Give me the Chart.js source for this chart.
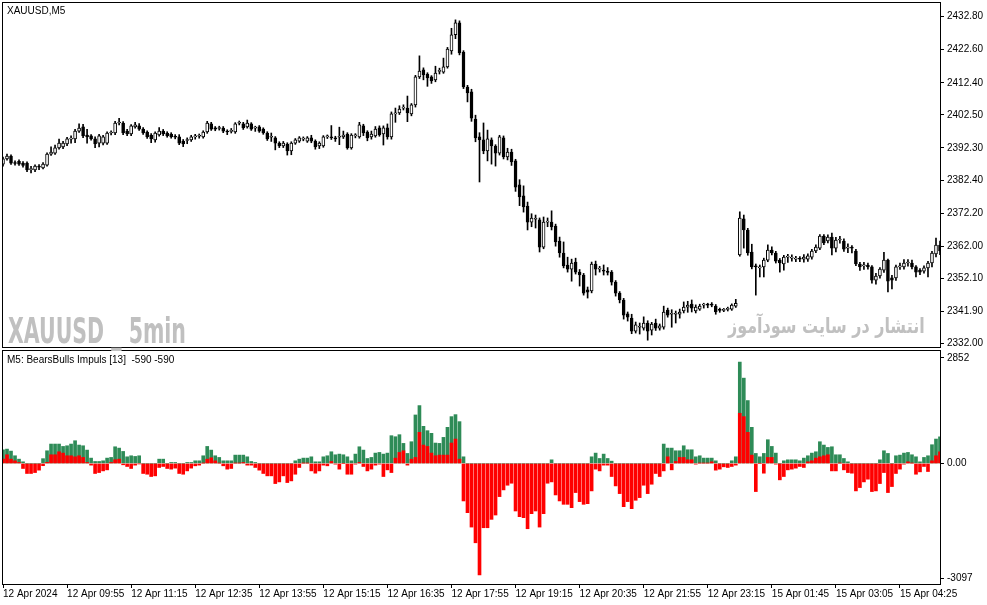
<!DOCTYPE html>
<html>
<head>
<meta charset="utf-8">
<title>XAUUSD,M5</title>
<script src="https://cdn.jsdelivr.net/npm/chart.js@4.4.1/dist/chart.umd.min.js"></script>
<style>
  html, body { margin: 0; padding: 0; background: #fff; }
  #wrap { position: relative; width: 987px; height: 605px; overflow: hidden; font-family: 'Liberation Sans', Arial, sans-serif; }
  canvas { position: absolute; left: 0; }
  #price { top: 0; }
  #impulse { top: 348px; }
  .lbl { position: absolute; font-size: 10px; color: #000; white-space: nowrap; }
  .wm { position: absolute; color: #c0c0c0; white-space: nowrap; transform-origin: 0 0; }
</style>
</head>
<body>
<div id="wrap">
  <canvas id="price" width="987" height="350"></canvas>
  <canvas id="impulse" width="987" height="257"></canvas>
  <div class="lbl" style="left:7px;top:5px">XAUUSD,M5</div>
  <div class="lbl" style="left:7px;top:354px">M5: BearsBulls Impuls [13]&nbsp; -590 -590</div>
  <div class="wm" id="wm1" style="left:8px;top:310px;font:bold 36px 'Liberation Sans Narrow','DejaVu Sans Condensed',sans-serif">XAUUSD _ 5min</div>
  <div class="wm" id="wm2" dir="rtl" style="left:728px;top:314px;font:bold 21px 'DejaVu Sans',sans-serif">انتشار در سایت سودآموز</div>
</div>
<script>
// 5 minute candles, 12 Apr 2024 08:35 .. 15 Apr 2024
var open = [
  2387.3, 2388.9, 2389.8, 2387.6, 2388.2, 2387.6, 2387.6, 2385.6, 2385.5, 2386.5,
  2386.1, 2387.0, 2390.4, 2390.7, 2392.3, 2392.6, 2393.5, 2395.0, 2395.1, 2397.5,
  2398.8, 2396.3, 2396.0, 2395.1, 2393.8, 2393.8, 2393.8, 2396.9, 2396.9, 2400.0,
  2400.0, 2397.5, 2396.6, 2398.8, 2399.1, 2398.1, 2397.2, 2396.3, 2394.8, 2396.3,
  2397.5, 2396.9, 2396.6, 2395.7, 2395.7, 2394.4, 2394.6, 2394.8, 2395.7, 2395.9,
  2395.7, 2397.2, 2399.7, 2398.5, 2398.3, 2398.4, 2397.3, 2397.4, 2397.2, 2399.9,
  2399.7, 2398.8, 2399.7, 2398.4, 2398.8, 2398.1, 2396.9, 2395.6, 2395.4, 2393.8,
  2392.9, 2393.5, 2391.4, 2393.8, 2394.4, 2395.0, 2394.4, 2395.4, 2394.4, 2392.9,
  2392.9, 2395.7, 2395.5, 2395.2, 2395.6, 2395.7, 2396.6, 2392.3, 2396.0, 2395.7,
  2399.1, 2397.2, 2395.7, 2396.0, 2398.5, 2396.6, 2398.5, 2395.7, 2402.8, 2403.1,
  2404.6, 2404.6, 2402.8, 2405.6, 2414.2, 2416.4, 2415.1, 2414.2, 2413.3, 2415.9,
  2415.7, 2417.3, 2422.2, 2427.2, 2430.9, 2421.9, 2411.1, 2409.6, 2401.2, 2395.7,
  2394.8, 2391.4, 2394.8, 2392.9, 2390.7, 2395.4, 2389.5, 2391.0, 2388.3, 2380.9,
  2377.5, 2374.4, 2369.4, 2370.3, 2370.1, 2361.7, 2369.4, 2369.4, 2368.2, 2363.6,
  2359.9, 2356.2, 2354.9, 2357.1, 2354.0, 2353.1, 2348.5, 2348.2, 2356.5, 2354.9,
  2354.4, 2354.0, 2354.0, 2350.9, 2347.5, 2345.4, 2341.1, 2339.8, 2335.8, 2337.0,
  2336.7, 2338.3, 2336.1, 2338.3, 2336.7, 2337.0, 2342.3, 2341.0, 2341.0, 2341.0,
  2342.0, 2343.2, 2344.1, 2342.0, 2342.6, 2343.8, 2343.9, 2344.1, 2343.5, 2342.3,
  2342.2, 2342.5, 2342.6, 2343.5, 2359.3, 2370.4, 2367.0, 2360.2, 2355.9, 2355.3,
  2355.6, 2357.7, 2360.8, 2359.9, 2357.7, 2356.5, 2358.6, 2358.3, 2358.0, 2358.1,
  2358.0, 2358.0, 2358.6, 2360.5, 2361.4, 2365.1, 2363.6, 2364.8, 2361.4, 2363.9,
  2363.6, 2361.4, 2361.5, 2360.5, 2356.5, 2355.9, 2356.2, 2355.6, 2351.5, 2352.8,
  2354.6, 2357.7, 2352.2, 2352.2, 2355.6, 2355.6, 2356.8, 2356.8, 2355.6, 2354.6,
  2354.3, 2355.3, 2356.8, 2359.6, 2362.3
];
var high = [
  2389.5, 2390.4, 2390.2, 2388.3, 2388.6, 2388.1, 2388.0, 2386.6, 2387.1, 2387.2,
  2387.8, 2390.8, 2392.6, 2393.2, 2395.0, 2394.3, 2395.6, 2396.0, 2398.0, 2399.7,
  2399.6, 2398.0, 2396.4, 2395.7, 2396.5, 2396.2, 2397.3, 2397.6, 2400.5, 2401.4,
  2400.4, 2398.0, 2399.5, 2400.2, 2399.8, 2398.6, 2397.6, 2396.7, 2397.3, 2398.6,
  2398.0, 2397.3, 2397.0, 2396.4, 2396.4, 2394.9, 2395.4, 2396.2, 2396.5, 2396.6,
  2397.6, 2400.5, 2400.2, 2398.9, 2399.0, 2398.9, 2397.9, 2398.3, 2400.1, 2400.6,
  2400.2, 2400.9, 2400.1, 2399.0, 2399.2, 2398.5, 2397.3, 2396.9, 2395.8, 2394.2,
  2394.3, 2393.9, 2394.2, 2395.2, 2395.8, 2395.7, 2395.8, 2396.2, 2394.8, 2394.2,
  2396.1, 2396.3, 2399.2, 2395.9, 2398.7, 2397.5, 2397.0, 2396.7, 2396.7, 2400.2,
  2399.6, 2397.6, 2397.5, 2398.9, 2399.1, 2399.1, 2399.7, 2403.4, 2404.6, 2405.3,
  2405.6, 2408.3, 2406.0, 2414.7, 2420.7, 2417.0, 2415.5, 2414.6, 2417.5, 2416.9,
  2420.0, 2423.3, 2429.2, 2431.8, 2431.5, 2422.3, 2411.6, 2410.4, 2402.4, 2397.0,
  2400.0, 2397.8, 2395.4, 2393.3, 2396.2, 2396.0, 2392.2, 2391.9, 2388.8, 2382.5,
  2380.6, 2375.6, 2372.0, 2371.6, 2370.7, 2371.0, 2370.7, 2372.9, 2368.8, 2364.8,
  2363.3, 2358.6, 2358.0, 2358.3, 2354.8, 2353.6, 2349.4, 2357.1, 2357.4, 2355.8,
  2356.2, 2355.4, 2354.5, 2351.4, 2348.0, 2345.9, 2341.7, 2341.0, 2338.6, 2338.3,
  2340.2, 2339.0, 2338.5, 2339.5, 2338.0, 2343.5, 2342.9, 2342.4, 2342.0, 2342.6,
  2344.8, 2345.0, 2345.4, 2343.9, 2344.1, 2344.4, 2344.4, 2344.6, 2344.0, 2342.9,
  2342.8, 2343.2, 2344.2, 2345.6, 2372.6, 2371.6, 2367.5, 2362.6, 2356.5, 2356.2,
  2358.3, 2362.4, 2361.8, 2360.4, 2358.2, 2359.2, 2359.5, 2359.3, 2358.9, 2358.8,
  2359.4, 2359.6, 2361.0, 2362.4, 2365.6, 2365.6, 2365.5, 2366.0, 2364.7, 2365.0,
  2364.3, 2362.7, 2362.2, 2361.0, 2357.0, 2357.0, 2356.8, 2356.0, 2353.6, 2355.4,
  2360.1, 2358.0, 2353.0, 2356.2, 2356.8, 2357.9, 2357.9, 2357.7, 2356.0, 2355.1,
  2355.9, 2357.3, 2360.4, 2364.5, 2363.6
];
var low = [
  2386.7, 2388.5, 2387.2, 2387.0, 2386.9, 2386.4, 2385.0, 2384.6, 2385.0, 2385.6,
  2385.8, 2386.7, 2390.0, 2390.3, 2391.9, 2392.1, 2393.0, 2393.8, 2393.9, 2397.1,
  2395.5, 2393.8, 2394.7, 2392.4, 2392.6, 2393.2, 2393.4, 2396.3, 2396.4, 2399.4,
  2396.4, 2396.1, 2396.1, 2398.4, 2397.7, 2396.5, 2395.2, 2393.9, 2394.1, 2395.9,
  2396.1, 2395.6, 2395.3, 2395.1, 2393.3, 2392.7, 2393.6, 2394.3, 2395.0, 2395.3,
  2395.3, 2396.8, 2397.7, 2397.6, 2397.8, 2397.0, 2396.4, 2396.9, 2396.8, 2399.4,
  2398.0, 2398.4, 2397.7, 2397.4, 2397.1, 2396.5, 2394.6, 2394.3, 2391.7, 2392.4,
  2392.4, 2390.1, 2390.2, 2393.4, 2394.0, 2394.5, 2394.0, 2393.9, 2391.9, 2392.1,
  2392.5, 2395.2, 2394.9, 2394.3, 2393.3, 2395.2, 2391.9, 2391.9, 2395.4, 2395.3,
  2396.1, 2394.5, 2395.0, 2395.6, 2395.9, 2393.2, 2395.0, 2395.0, 2400.2, 2402.6,
  2404.0, 2400.4, 2402.2, 2404.9, 2413.7, 2413.3, 2411.3, 2412.2, 2412.7, 2415.1,
  2415.3, 2416.9, 2421.2, 2426.0, 2421.0, 2410.6, 2406.5, 2400.5, 2394.2, 2381.8,
  2390.5, 2388.3, 2387.3, 2386.7, 2390.1, 2388.9, 2388.6, 2386.9, 2378.9, 2374.5,
  2372.5, 2367.0, 2368.0, 2367.6, 2360.2, 2361.2, 2368.0, 2367.0, 2362.0, 2358.6,
  2355.3, 2354.0, 2351.2, 2353.4, 2349.7, 2346.9, 2346.0, 2347.6, 2353.1, 2354.0,
  2353.1, 2353.1, 2350.0, 2346.6, 2344.5, 2339.5, 2338.9, 2335.0, 2335.2, 2334.9,
  2336.1, 2333.0, 2334.6, 2336.0, 2336.1, 2336.4, 2340.1, 2337.0, 2338.3, 2339.8,
  2341.4, 2341.6, 2341.7, 2341.4, 2342.2, 2342.9, 2343.0, 2343.3, 2341.0, 2341.6,
  2341.8, 2342.0, 2342.2, 2343.1, 2358.9, 2361.4, 2359.2, 2355.0, 2346.9, 2352.5,
  2352.5, 2357.2, 2359.3, 2356.8, 2354.0, 2354.6, 2357.0, 2357.4, 2357.2, 2357.2,
  2357.1, 2357.3, 2358.0, 2360.0, 2360.9, 2362.5, 2363.0, 2359.3, 2360.2, 2362.9,
  2360.4, 2360.0, 2359.9, 2356.0, 2354.5, 2354.8, 2354.9, 2350.6, 2350.3, 2352.1,
  2353.9, 2347.9, 2348.8, 2351.4, 2354.8, 2354.9, 2355.8, 2355.0, 2352.5, 2353.2,
  2353.7, 2352.5, 2355.6, 2358.7, 2359.4
];
var close = [
  2388.9, 2389.8, 2387.6, 2387.5, 2387.3, 2386.9, 2385.5, 2385.8, 2386.7, 2386.4,
  2387.3, 2390.4, 2391.0, 2392.3, 2393.8, 2393.8, 2395.1, 2395.1, 2397.5, 2398.4,
  2396.0, 2395.7, 2395.1, 2393.5, 2396.0, 2395.7, 2396.9, 2397.0, 2400.0, 2400.2,
  2396.9, 2396.6, 2399.1, 2399.4, 2398.1, 2396.9, 2395.7, 2395.1, 2396.9, 2397.5,
  2396.6, 2396.0, 2395.7, 2395.6, 2393.8, 2393.5, 2394.8, 2395.7, 2395.8, 2396.0,
  2397.2, 2400.0, 2398.1, 2398.1, 2398.4, 2397.5, 2397.2, 2397.6, 2399.7, 2400.0,
  2398.5, 2400.0, 2398.1, 2398.5, 2397.5, 2396.9, 2395.1, 2395.7, 2393.8, 2392.9,
  2393.8, 2391.4, 2393.8, 2394.8, 2395.4, 2395.1, 2395.4, 2394.4, 2392.6, 2393.8,
  2395.7, 2395.8, 2395.4, 2395.1, 2395.7, 2396.3, 2392.3, 2396.3, 2396.1, 2399.4,
  2396.9, 2395.4, 2396.6, 2398.1, 2396.3, 2398.5, 2395.7, 2402.8, 2402.9, 2404.3,
  2404.7, 2403.1, 2405.6, 2414.2, 2416.0, 2414.8, 2413.9, 2413.0, 2415.4, 2416.0,
  2417.3, 2422.8, 2427.2, 2430.9, 2421.6, 2411.1, 2409.3, 2401.5, 2395.4, 2394.8,
  2391.4, 2395.1, 2392.9, 2390.7, 2395.7, 2389.5, 2391.0, 2388.0, 2380.2, 2377.2,
  2374.1, 2369.4, 2370.7, 2370.4, 2361.7, 2369.4, 2369.5, 2367.9, 2363.3, 2359.9,
  2355.9, 2354.9, 2356.8, 2354.0, 2353.1, 2347.5, 2347.8, 2356.5, 2354.9, 2355.0,
  2354.3, 2353.9, 2350.9, 2347.5, 2345.4, 2340.7, 2340.1, 2335.8, 2337.7, 2337.1,
  2338.3, 2335.8, 2338.0, 2336.7, 2337.4, 2341.7, 2340.7, 2341.1, 2341.1, 2341.7,
  2343.2, 2343.8, 2342.9, 2343.2, 2343.5, 2343.9, 2343.8, 2343.8, 2341.7, 2342.2,
  2342.3, 2342.6, 2343.8, 2344.4, 2370.7, 2367.0, 2359.9, 2355.6, 2355.6, 2355.6,
  2357.7, 2360.8, 2359.9, 2357.4, 2356.8, 2358.6, 2358.7, 2358.4, 2358.1, 2358.0,
  2358.6, 2359.0, 2360.5, 2361.7, 2365.1, 2363.0, 2364.8, 2361.4, 2363.9, 2364.0,
  2361.1, 2361.5, 2361.4, 2356.5, 2355.6, 2356.0, 2355.6, 2351.5, 2352.8, 2354.9,
  2357.7, 2351.2, 2351.5, 2355.6, 2355.9, 2356.8, 2356.9, 2355.6, 2354.0, 2354.0,
  2355.3, 2356.8, 2359.9, 2362.3, 2360.5
];

// BearsBulls Impuls [13] buffers
var bulls = [
  370, 388, 334, 208, 117, 45, 0, 0, 0, 0,
  130, 343, 524, 524, 524, 460, 478, 524, 614, 497,
  478, 361, 145, 54, 54, 72, 145, 163, 451, 415,
  325, 180, 208, 190, 208, 0, 0, 0, 0, 117,
  117, 0, 27, 27, 0, 0, 27, 27, 72, 72,
  208, 460, 361, 208, 163, 72, 72, 72, 226, 226,
  226, 180, 54, 27, 0, 0, 0, 0, 0, 0,
  0, 0, 0, 72, 117, 145, 145, 180, 45, 45,
  180, 208, 316, 235, 253, 235, 180, 72, 253, 451,
  361, 135, 163, 280, 298, 253, 280, 750, 722, 777,
  542, 271, 587, 1309, 1562, 1002, 885, 813, 551, 542,
  704, 975, 1264, 1318, 1129, 180, 0, 0, 0, 0,
  0, 0, 0, 0, 0, 0, 0, 0, 0, 0,
  0, 0, 0, 0, 0, 0, 0, 99, 0, 0,
  0, 0, 0, 0, 0, 0, 0, 180, 280, 135,
  253, 135, 63, 0, 0, 0, 0, 0, 0, 0,
  0, 0, 0, 0, 0, 524, 415, 415, 343, 343,
  478, 370, 370, 180, 208, 145, 145, 145, 72, 0,
  0, 0, 72, 180, 2736, 2303, 1698, 975, 271, 180,
  271, 641, 460, 280, 0, 72, 99, 99, 99, 72,
  145, 208, 280, 316, 587, 497, 433, 451, 235, 235,
  135, 45, 0, 0, 0, 0, 0, 0, 0, 99,
  343, 271, 0, 208, 226, 280, 298, 235, 180, 45,
  163, 208, 506, 659, 722
];
var bears = [
  117, 235, 117, 72, 27, -135, -270, -270, -245, -180,
  -60, 30, 235, 235, 316, 280, 208, 208, 180, 208,
  163, 27, -45, -270, -245, -200, -172, 27, 100, 117,
  -36, -81, -135, -45, -10, -270, -290, -352, -334, -108,
  -81, -135, -153, -126, -270, -290, -200, -126, -63, -45,
  9, 117, 153, 72, 9, -63, -153, -135, 9, 9,
  27, -45, -45, -108, -180, -270, -334, -334, -542, -497,
  -334, -515, -470, -290, -108, 9, 9, -200, -262, -200,
  -45, -63, 54, -18, -153, 0, -290, -290, -18, 27,
  -81, -200, -153, -45, -18, -352, -172, -245, 145, 298,
  343, -45, 117, 163, 840, 497, 460, 280, 208, 226,
  226, 226, 551, 659, 117, -1011, -1327, -1716, -2140, -3007,
  -1734, -1734, -1508, -1391, -894, -713, -587, -533, -1282, -1436,
  -1463, -1761, -1355, -1282, -1716, -1355, -533, -497, -849, -1011,
  -1102, -1102, -1192, -785, -1029, -1102, -1084, -740, -153, -200,
  -45, -45, -352, -605, -813, -1165, -1029, -1219, -993, -921,
  -587, -813, -560, -270, -352, -200, 180, -172, 54, 163,
  163, 100, 100, -18, 9, 9, 9, 45, -180, -153,
  -90, -108, -81, -45, 1355, 1264, 840, 226, -758, 0,
  -262, 163, 163, -18, -442, -352, -172, -153, -126, -81,
  -108, 45, 72, 145, 180, 208, 235, -200, -200, 9,
  -172, -245, -262, -740, -650, -497, -424, -758, -740, -542,
  -245, -785, -623, -270, -153, -18, 45, 9, -290, -226,
  -81, -217, 72, 208, 316
];

// axis labels, one time label every 16 bars
var timeLabels = ['12 Apr 2024', '12 Apr 09:55', '12 Apr 11:15', '12 Apr 12:35', '12 Apr 13:55',
  '12 Apr 15:15', '12 Apr 16:35', '12 Apr 17:55', '12 Apr 19:15', '12 Apr 20:35',
  '12 Apr 21:55', '12 Apr 23:15', '15 Apr 01:45', '15 Apr 03:05', '15 Apr 04:25'];
var priceTicks = [2432.80, 2422.60, 2412.40, 2402.50, 2392.30, 2382.40, 2372.20, 2362.00, 2352.10, 2341.90, 2332.00];
var impulseTicks = [2852, 0, -3097];

var bars = open.map(function (v, i) { return i; });

Chart.defaults.font.family = "'Liberation Sans', Arial, sans-serif";
Chart.defaults.font.size = 10;
Chart.defaults.color = '#000';
Chart.defaults.animation = false;

// black frame round each window, like the terminal draws it
var frame = {
  id: 'frame',
  afterDraw: function (chart) {
    var a = chart.chartArea;
    var ctx = chart.ctx;
    ctx.save();
    ctx.strokeStyle = '#000';
    ctx.lineWidth = 1;
    ctx.strokeRect(a.left - 0.5, a.top - 0.5, a.right - a.left + 1, a.bottom - a.top + 1);
    ctx.restore();
  }
};

// the axes must not push the plot inwards to make room for end labels
function noPadding(s) {
  s.paddingTop = 0;
  s.paddingBottom = 0;
  s.paddingLeft = 0;
  s.paddingRight = 0;
}

function xAxis(show) {
  return {
    type: 'category',
    offset: false,
    display: show,
    grid: { offset: false, drawOnChartArea: false, tickLength: 4, color: '#000' },
    border: { display: false },
    ticks: {
      autoSkip: false,
      maxRotation: 0,
      minRotation: 0,
      align: 'start',
      padding: 0,
      callback: function (v, i) { return i % 16 === 0 ? timeLabels[i / 16] : null; }
    },
    afterFit: function (s) {
      noPadding(s);
      if (show) {
        s.height = 21;
      }
    }
  };
}

function yAxis(min, max, ticks, fmt) {
  return {
    position: 'right',
    min: min,
    max: max,
    grid: { drawOnChartArea: false, tickLength: 4, color: '#000' },
    border: { color: '#000' },
    ticks: { padding: 3, autoSkip: false, callback: fmt },
    afterBuildTicks: function (s) {
      s.ticks = ticks.map(function (v) { return { value: v }; });
    },
    afterFit: function (s) {
      noPadding(s);
      s.width = 47;
    }
  };
}

var common = {
  responsive: false,
  devicePixelRatio: 1,
  events: [],
  plugins: { legend: { display: false }, tooltip: { enabled: false } }
};

var priceChart = new Chart(document.getElementById('price'), {
  type: 'bar',
  data: {
    labels: bars,
    datasets: [{
      label: 'wick',
      data: low.map(function (l, i) { return [l, high[i]]; }),
      backgroundColor: '#000',
      barThickness: 1,
      grouped: false,
      order: 1
    }, {
      label: 'body',
      data: open.map(function (o, i) { return [o, close[i]]; }),
      backgroundColor: close.map(function (c, i) { return c >= open[i] ? '#fff' : '#000'; }),
      borderColor: '#000',
      borderWidth: 1,
      borderSkipped: false,
      barThickness: 3,
      minBarLength: 1,
      grouped: false,
      order: 0
    }]
  },
  options: Object.assign({}, common, {
    layout: { padding: { left: 3, top: 3, right: 0, bottom: 3 } },
    scales: {
      x: xAxis(false),
      y: yAxis(2330.9, 2437.0, priceTicks, function (v) { return v.toFixed(2); })
    }
  }),
  plugins: [frame]
});

var impulseChart = new Chart(document.getElementById('impulse'), {
  type: 'bar',
  data: {
    labels: bars,
    datasets: [{
      label: 'Bears',
      data: bears,
      backgroundColor: '#ff0000',
      barThickness: 3,
      grouped: false,
      order: 0
    }, {
      label: 'Bulls',
      data: bulls,
      backgroundColor: '#2e8b57',
      barThickness: 3,
      grouped: false,
      order: 1
    }]
  },
  options: Object.assign({}, common, {
    layout: { padding: { left: 3, top: 3, right: 0, bottom: 0 } },
    scales: {
      x: xAxis(true),
      y: yAxis(-3252, 3035, impulseTicks, function (v) { return v === 0 ? '0.00' : String(v); })
    }
  }),
  plugins: [frame]
});

// squeeze the watermarks to the width they take in the terminal
function fitWidth(id, w) {
  var el = document.getElementById(id);
  el.style.transform = 'scaleX(' + (w / el.offsetWidth) + ')';
}
fitWidth('wm1', 178);
fitWidth('wm2', 197);
</script>
</body>
</html>
